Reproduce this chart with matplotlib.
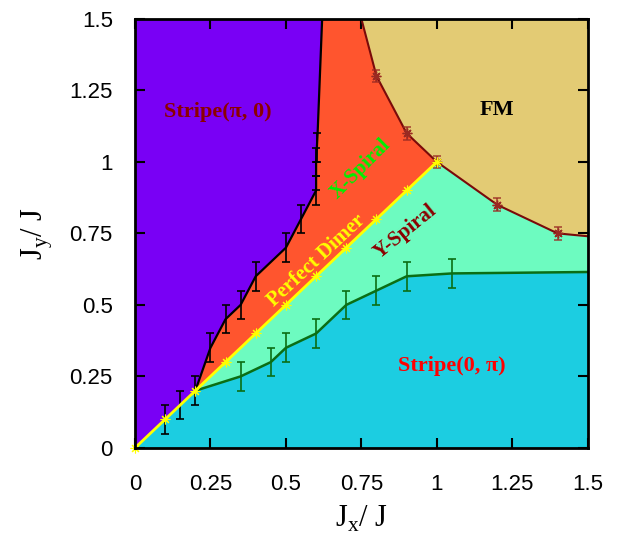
import numpy as np
import matplotlib
matplotlib.use("Agg")
import matplotlib.pyplot as plt

plt.rcParams["mathtext.fontset"] = "custom"
plt.rcParams["mathtext.rm"] = "Liberation Serif"

# phase boundaries
dimer_x = [0.0, 0.1, 0.2, 0.3, 0.4, 0.5, 0.6, 0.7, 0.8, 0.9, 1.0]
dimer_y = [0.0, 0.1, 0.2, 0.3, 0.4, 0.5, 0.6, 0.7, 0.8, 0.9, 1.0]

black_x = [0.2, 0.25, 0.3, 0.35, 0.4, 0.5, 0.55, 0.6, 0.6, 0.605, 0.62]
black_y = [0.2, 0.35, 0.45, 0.5, 0.6, 0.7, 0.8, 0.9, 1.0, 1.1, 1.5]
black_err_x = [0.1, 0.15, 0.2, 0.25, 0.3, 0.35, 0.4, 0.5, 0.55, 0.6, 0.6, 0.6, 0.603]
black_err_y = [0.1, 0.15, 0.2, 0.35, 0.45, 0.5, 0.6, 0.7, 0.8, 0.9, 0.95, 1.0, 1.05]

green_x = [0.2, 0.35, 0.45, 0.5, 0.6, 0.7, 0.8, 0.9, 1.05, 1.5]
green_y = [0.2, 0.25, 0.3, 0.35, 0.4, 0.5, 0.55, 0.6, 0.61, 0.615]

fm_x = [0.75, 0.8, 0.9, 1.0, 1.2, 1.4, 1.5]
fm_y = [1.5, 1.3, 1.1, 1.0, 0.85, 0.75, 0.74]

ticks = [0, 0.25, 0.5, 0.75, 1, 1.25, 1.5]
tick_labels = ["0", "0.25", "0.5", "0.75", "1", "1.25", "1.5"]

fig = plt.figure(figsize=(6.22, 5.39), dpi=100)
ax = fig.add_axes([0.217, 0.169, 0.728, 0.796])

bx, by = np.array(black_x), np.array(black_y)
gx, gy = np.array(green_x), np.array(green_y)
fx, fy = np.array(fm_x), np.array(fm_y)
dx, dy = np.array(dimer_x), np.array(dimer_y)

# regions
ax.fill(np.r_[0, bx, 0], np.r_[0, by, 1.5], color="#7900f5", lw=0, zorder=0)
ax.fill(np.r_[bx, fx[:4], dx[2:][::-1]], np.r_[by, fy[:4], dy[2:][::-1]],
        color="#ff552e", lw=0, zorder=0)
ax.fill(np.r_[fx, 1.5], np.r_[fy, 1.5], color="#e3cb74", lw=0, zorder=0)
ax.fill(np.r_[dx[2:], fx[4:], gx[::-1]], np.r_[dy[2:], fy[4:], gy[::-1]],
        color="#6dfbc0", lw=0, zorder=0)
ax.fill(np.r_[0, gx, 1.5], np.r_[0, gy, 0], color="#1ccde1", lw=0, zorder=0)

# boundaries
ax.plot(bx, by, color="black", lw=1.6, zorder=3)
ax.errorbar(black_err_x, black_err_y, yerr=0.05, fmt="none", ecolor="black",
            elinewidth=1.2, capsize=3, capthick=1.2, zorder=3)

ax.plot(gx, gy, color="#0b6e14", lw=1.8, zorder=3)
ax.errorbar(gx[1:-1], gy[1:-1], yerr=0.05, fmt="none", ecolor="#0b6e14",
            elinewidth=1.2, capsize=3, capthick=1.2, zorder=3)

ax.plot(fx, fy, color="#7a0a0a", lw=1.5, zorder=3)
ax.errorbar(fx[1:-1], fy[1:-1], yerr=0.022, fmt="none", ecolor="#9a2a22",
            elinewidth=1.2, capsize=3, capthick=1.2, alpha=0.8, zorder=3)
ax.plot(fx[1:-1], fy[1:-1], ls="none", marker=(8, 2, 0), ms=7,
        mec="#9a2a22", mew=1.0, zorder=3)

ax.plot(dx, dy, color="#ffff00", lw=2, marker=(8, 2, 0), ms=7,
        mec="#ffff00", mew=0.8, zorder=4, clip_on=False)

# labels
serif = "Liberation Serif"
ax.text(0.275, 1.175, "Stripe(π, 0)", color="#8b0000", fontsize=16,
        fontweight="bold", family=serif, ha="center", va="center")
ax.text(1.2, 1.18, "FM", color="black", fontsize=16, fontweight="bold",
        family=serif, ha="center", va="center")
ax.text(0.748, 0.975, "X-Spiral", color="#00f000", fontsize=15, fontweight="bold",
        family=serif, ha="center", va="center", rotation=45)
ax.text(0.6, 0.654, "Perfect Dimer", color="#ffff00", fontsize=15,
        fontweight="bold", family=serif, ha="center", va="center", rotation=43)
ax.text(0.897, 0.755, "Y-Spiral", color="#8b0000", fontsize=15, fontweight="bold",
        family=serif, ha="center", va="center", rotation=39)
ax.text(1.05, 0.287, "Stripe(0, π)", color="#ff0000", fontsize=16,
        fontweight="bold", family=serif, ha="center", va="center")

ax.set_xlim(0, 1.5)
ax.set_ylim(0, 1.5)
ax.set_xticks(ticks)
ax.set_yticks(ticks)
ax.set_xticklabels(tick_labels, family="Liberation Sans", fontsize=16)
ax.set_yticklabels(tick_labels, family="Liberation Sans", fontsize=16)
ax.tick_params(axis="both", direction="in", length=7, width=1.5,
               top=True, right=True)
ax.tick_params(axis="x", pad=19)
ax.tick_params(axis="y", pad=16)
for sp in ax.spines.values():
    sp.set_linewidth(2)
    sp.set_zorder(5)

ax.set_xlabel(r"J$_\mathregular{x}$/ J", family=serif, fontsize=22, labelpad=6)
ax.set_ylabel(r"J$_\mathregular{y}$/ J", family=serif, fontsize=22, labelpad=10)

fig.savefig("out.png", dpi=100)
